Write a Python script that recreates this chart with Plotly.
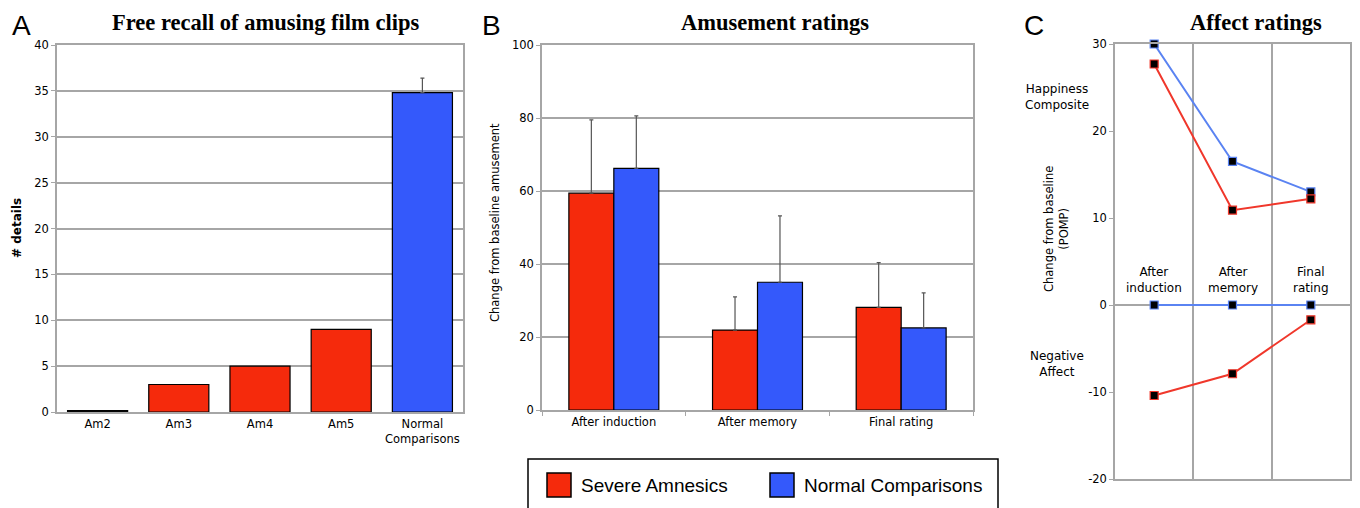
import plotly.graph_objects as go

# The page body adds an 8px offset; the figure is sized so that its area
# starts at (8, 8) of the 1360x508 window and reaches the window's edges.
OFF = 8
W, H = 1360 - OFF, 508 - OFF

# ---------------- data ----------------
a_categories = ["Am2", "Am3", "Am4", "Am5", "Normal<br>Comparisons"]
a_amnesic_values = [0.15, 3, 5, 9]
a_normal_value = [34.8]
a_normal_err = [1.6]

b_categories = ["After induction", "After memory", "Final rating"]
b_amnesic = [59.4, 21.9, 28.1]
b_amnesic_err = [20.1, 9.1, 12.3]
b_normal = [66.2, 35.0, 22.5]
b_normal_err = [14.4, 18.2, 9.6]

c_categories = ["After<br>induction", "After<br>memory", "Final<br>rating"]
c_amnesic_happy = [27.7, 10.9, 12.2]
c_normal_happy = [30.0, 16.5, 13.0]
c_amnesic_neg = [-10.4, -7.9, -1.7]
c_normal_neg = [0.0, 0.0, 0.0]
c_tick_values = [-20, -10, 0, 10, 20, 30]
c_tick_labels = ["-20", "-10", "0", "10", "20", "30"]

series_names = ["Severe Amnesics", "Normal Comparisons"]

RED = "#f52a0c"
BLUE = "#3459fb"
LRED = "#f0372b"
LBLUE = "#5a83f2"
GRID = "#a6a6a6"
SANS = "Liberation Sans, Arial, sans-serif"
VSANS = "DejaVu Sans, Verdana, sans-serif"
SERIF = "Liberation Serif, Times New Roman, serif"


def px(x):
    return (x - OFF) / W


def py(y):
    return 1 - (y - OFF) / H


fig = go.Figure()

# ---------------- Panel A ----------------
fig.add_trace(go.Bar(
    x=a_categories[:4], y=a_amnesic_values, width=0.74,
    marker=dict(color=["#111111", RED, RED, RED], line=dict(color="black", width=1.2)),
    xaxis="x", yaxis="y", showlegend=False,
))
fig.add_trace(go.Bar(
    x=a_categories[4:], y=a_normal_value, width=0.74,
    marker=dict(color=BLUE, line=dict(color="black", width=1.2)),
    error_y=dict(type="data", array=a_normal_err, arrayminus=[0], symmetric=False,
                 color="#555555", thickness=1.2, width=2),
    xaxis="x", yaxis="y", showlegend=False,
))

# ---------------- Panel B ----------------
BW = 0.313
fig.add_trace(go.Bar(
    x=b_categories, y=b_amnesic, name=series_names[0], width=BW, offset=-BW,
    marker=dict(color=RED, line=dict(color="black", width=1.2)),
    error_y=dict(type="data", array=b_amnesic_err, arrayminus=[0, 0, 0], symmetric=False,
                 color="#555555", thickness=1.2, width=2),
    xaxis="x2", yaxis="y2", showlegend=False,
))
fig.add_trace(go.Bar(
    x=b_categories, y=b_normal, name=series_names[1], width=BW, offset=0,
    marker=dict(color=BLUE, line=dict(color="black", width=1.2)),
    error_y=dict(type="data", array=b_normal_err, arrayminus=[0, 0, 0], symmetric=False,
                 color="#555555", thickness=1.2, width=2),
    xaxis="x2", yaxis="y2", showlegend=False,
))

# ---------------- Panel C ----------------
for yvals, col in [(c_normal_neg, LBLUE), (c_amnesic_neg, LRED),
                   (c_normal_happy, LBLUE), (c_amnesic_happy, LRED)]:
    fig.add_trace(go.Scatter(
        x=c_categories, y=yvals, mode="lines+markers",
        line=dict(color=col, width=2),
        marker=dict(symbol="square", size=8, color="black", line=dict(color=col, width=1.2)),
        xaxis="x3", yaxis="y3", showlegend=False, cliponaxis=False,
    ))

axis_common = dict(showline=True, linecolor=GRID, linewidth=1.5, mirror=True,
                   automargin=False,
                   tickfont=dict(family=VSANS, size=11.5, color="black"))

fig.update_layout(
    template="none",
    width=W, height=H,
    margin=dict(l=0, r=0, t=0, b=0, autoexpand=False),
    paper_bgcolor="white", plot_bgcolor="white",
    font=dict(family=SANS, color="black"),
    barmode="overlay",
    showlegend=False,
    xaxis=dict(domain=[px(57), px(463)], anchor="y", showgrid=False, ticks="",
               range=[-0.5, 4.5], **axis_common),
    yaxis=dict(domain=[py(412), py(45)], anchor="x", range=[0, 40], dtick=5,
               showgrid=True, gridcolor=GRID, gridwidth=1.5, ticks="outside", ticklen=4,
               tickcolor=GRID, zeroline=False, **axis_common),
    xaxis2=dict(domain=[px(542), px(973)], anchor="y2", showgrid=False, range=[-0.5, 2.5],
                tickson="boundaries", ticks="outside", ticklen=4, tickcolor=GRID, **axis_common),
    yaxis2=dict(domain=[py(410), py(45)], anchor="x2", range=[0, 100], dtick=20,
                showgrid=True, gridcolor=GRID, gridwidth=1.5, ticks="outside", ticklen=4,
                tickcolor=GRID, zeroline=False, **axis_common),
    xaxis3=dict(domain=[px(1115), px(1350)], anchor="y3", showgrid=True, gridcolor=GRID,
                gridwidth=1.5, tickson="boundaries", ticks="", showticklabels=False,
                range=[-0.5, 2.5], **axis_common),
    yaxis3=dict(domain=[py(479), py(44)], anchor="x3", range=[-20, 30],
                tickvals=c_tick_values, ticktext=c_tick_labels,
                showgrid=False, zeroline=True, zerolinecolor=GRID, zerolinewidth=1.5,
                ticks="outside", ticklen=4, tickcolor=GRID, **axis_common),
)


def note(text, x, y, size, family=VSANS, angle=0, xanchor="center"):
    return dict(text=text, x=px(x), y=py(y), xref="paper", yref="paper",
                xanchor=xanchor, yanchor="middle", textangle=angle, showarrow=False,
                font=dict(family=family, size=size, color="black"))


ann = []
# Panel letters
for letter, x in [("A", 21.5), ("B", 491), ("C", 1034)]:
    ann.append(note(letter, x, 25, 28, family=SANS))
# Titles
for t, x in [("Free recall of amusing film clips", 265), ("Amusement ratings", 775),
             ("Affect ratings", 1256)]:
    ann.append(note("<b>%s</b>" % t, x, 22, 22.5, family=SERIF))
# Axis titles
ann.append(note("<b># details</b>", 17, 228, 12, angle=-90))
ann.append(note("Change from baseline amusement", 495, 223, 11.5, angle=-90))
ann.append(note("Change from baseline<br>(POMP)", 1057, 229, 11.5, angle=-90))
ann.append(note("Happiness<br>Composite", 1057, 97, 12))
ann.append(note("Negative<br>Affect", 1057, 364, 12))
# Panel C category labels inside the plot
for c in c_categories:
    ann.append(dict(text=c, x=c, y=py(280), xref="x3", yref="paper", showarrow=False,
                    xanchor="center", yanchor="middle",
                    font=dict(family=VSANS, size=12, color="black")))

# Legend (box, swatches, labels)
shapes = [dict(type="rect", xref="paper", yref="paper", x0=px(528), x1=px(998),
               y0=py(512), y1=py(459), line=dict(color="black", width=1.5))]
for name, col, sx in [(series_names[0], RED, 547), (series_names[1], BLUE, 770)]:
    shapes.append(dict(type="rect", xref="paper", yref="paper", x0=px(sx), x1=px(sx + 24),
                       y0=py(497), y1=py(473), fillcolor=col, line=dict(color="black", width=1.5)))
    ann.append(note(name, sx + 32, 485, 19, family=SANS, xanchor="left"))

fig.update_layout(annotations=ann, shapes=shapes)
fig.write_html("out.html")
